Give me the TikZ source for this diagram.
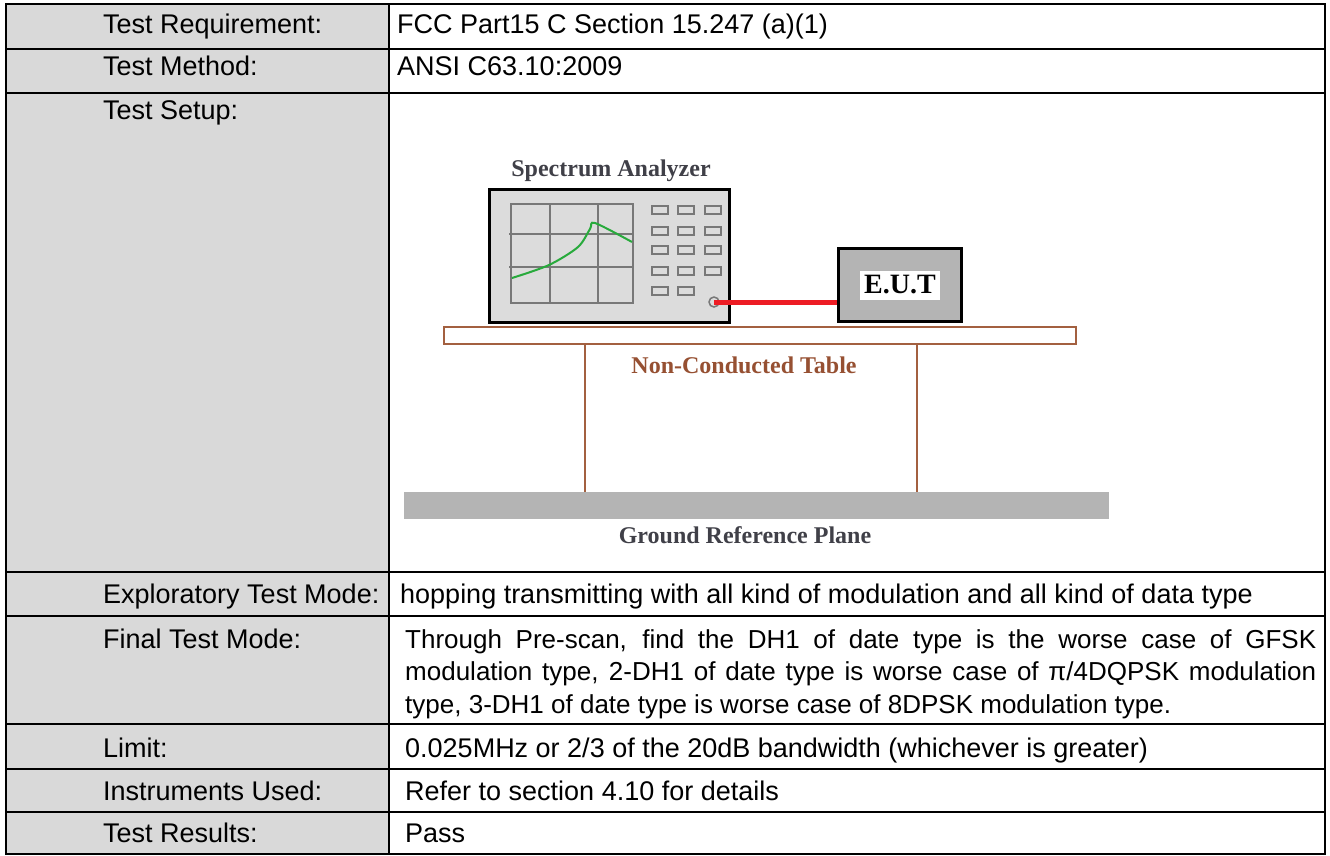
\documentclass[tikz,border=0pt]{standalone}
\usepackage{fontspec}
\setmainfont{Liberation Sans}
\newfontfamily\setupfont{Liberation Serif}
\usepackage{tikz}
\usetikzlibrary{positioning,calc}
\usepackage{xcolor}
\definecolor{cellgrey}{RGB}{217,217,217}
\definecolor{devgrey}{RGB}{220,220,220}
\definecolor{gridgrey}{RGB}{120,120,120}
\definecolor{eutgrey}{RGB}{180,180,180}
\definecolor{tblbrown}{RGB}{163,96,64}
\definecolor{txtbrown}{RGB}{150,80,50}
\definecolor{cablered}{RGB}{237,28,36}
\definecolor{curvegreen}{RGB}{40,170,60}
\definecolor{inkgrey}{RGB}{64,64,72}
\tikzstyle{rule} = [line width=2pt, black]
\tikzstyle{celltext} = [anchor=base west, inner sep=0pt, font=\fontsize{27}{32.5}\selectfont]
\tikzstyle{setuplabel} = [anchor=base, inner sep=0pt, font=\setupfont\bfseries\fontsize{24}{24}\selectfont]
\tikzstyle{gridline} = [line width=2.2pt, color=gridgrey]
\tikzstyle{btn} = [rectangle, draw=gridgrey, line width=2pt, fill=devgrey, minimum width=16pt, minimum height=8pt, inner sep=0pt]
\tikzstyle{cable} = [line width=5pt, color=cablered]
\tikzstyle{leg} = [line width=2pt, color=tblbrown]

\begin{document}
\begin{tikzpicture}[x=1pt, y=-1pt]
\fill[white] (0,0) rectangle (1330,855);
% Table
\fill[cellgrey] (6,4) rectangle (389,854);
\foreach \ry in {4,49,93,572,616,724,769,812,854}
  \draw[rule] (5,\ry) -- (1326,\ry);
\foreach \rx in {6,389,1325}
  \draw[rule] (\rx,4) -- (\rx,854);
\node[celltext] (req) at (103,33) {Test Requirement:};
\node[celltext] (meth) at (103,75) {Test Method:};
\node[celltext] (setup) at (103,119) {Test Setup:};
\node[celltext] (expl) at (103,603) {Exploratory Test Mode:};
\node[celltext] (final) at (103,648) {Final Test Mode:};
\node[celltext] (limit) at (103,757) {Limit:};
\node[celltext] (instr) at (103,800) {Instruments Used:};
\node[celltext] (result) at (103,842) {Test Results:};
\node[celltext] (reqval) at (397,33) {FCC Part15 C Section 15.247 (a)(1)};
\node[celltext] (methval) at (397,75) {ANSI C63.10:2009};
\node[celltext] (explval) at (400,603) {hopping transmitting with all kind of modulation and all kind of data type};
\node[celltext, font=\fontsize{26}{32.5}\selectfont, text width=911pt, align=left] (finalval) at (405,648) {\spaceskip=0.278em plus 1em minus 0.15em
  \makebox[911pt][s]{Through Pre-scan, find the DH1 of date type is the worse case of GFSK}\\
  \makebox[911pt][s]{modulation type, 2-DH1 of date type is worse case of π/4DQPSK modulation}\\
  type, 3-DH1 of date type is worse case of 8DPSK modulation type.};
\node[celltext] (limitval) at (405,757) {0.025MHz or 2/3 of the 20dB bandwidth (whichever is greater)};
\node[celltext] (instrval) at (405,800) {Refer to section 4.10 for details};
\node[celltext] (resultval) at (405,842) {Pass};
% Spectrum analyzer
\node[draw, line width=3pt, fill=devgrey, minimum width=240pt, minimum height=133pt, inner sep=0pt] (sa) at (609.5,256) {};
\node[setuplabel, text=inkgrey] (salabel) at (611,176) {Spectrum Analyzer};
\draw[gridline] (511,204) rectangle (633,303);
\foreach \gx in {550,598}
  \draw[gridline] (\gx,204) -- (\gx,303);
\foreach \gy in {234,267}
  \draw[gridline] (509,\gy) -- (633,\gy);
\draw[curvegreen, line width=2pt] plot[smooth, tension=0.5] coordinates {(512,278) (549,265) (578,247) (590,229) (595,223) (632,242)};
\foreach \by in {210,231,249.5,271}
  \foreach \bx in {660,686,713}
    \node[btn] at (\bx,\by) {};
\foreach \bx in {660,686}
  \node[btn] at (\bx,291) {};
\node[circle, draw=gridgrey, line width=1.5pt, fill=devgrey, minimum size=10pt, inner sep=0pt] (knob) at (714,302) {};
% E.U.T
\node[draw, line width=3pt, fill=eutgrey, minimum width=123pt, minimum height=73pt, inner sep=0pt] (eut) at (900,285) {};
\node[fill=white, minimum width=80pt, minimum height=29pt, inner sep=0pt, font=\setupfont\bfseries\fontsize{28}{28}\selectfont] (eutlabel) at (eut) {E.U.T};
\draw[cable] (knob.center) -- (knob.center -| eut.west);
% Table and ground plane
\node[draw=tblbrown, line width=2pt, fill=white, minimum width=632pt, minimum height=17pt, inner sep=0pt] (plank) at (760,335.5) {};
\node[fill=eutgrey, minimum width=705pt, minimum height=27pt, inner sep=0pt] (ground) at (756.5,505.5) {};
\coordinate (legL) at (585,0);
\coordinate (legR) at (917,0);
\draw[leg] (plank.south -| legL) -- (ground.north -| legL);
\draw[leg] (plank.south -| legR) -- (ground.north -| legR);
\node[setuplabel, text=txtbrown] (plabel) at (744,373) {Non-Conducted Table};
\node[setuplabel, text=inkgrey] (glabel) at (745,543) {Ground Reference Plane};
\end{tikzpicture}
\end{document}
